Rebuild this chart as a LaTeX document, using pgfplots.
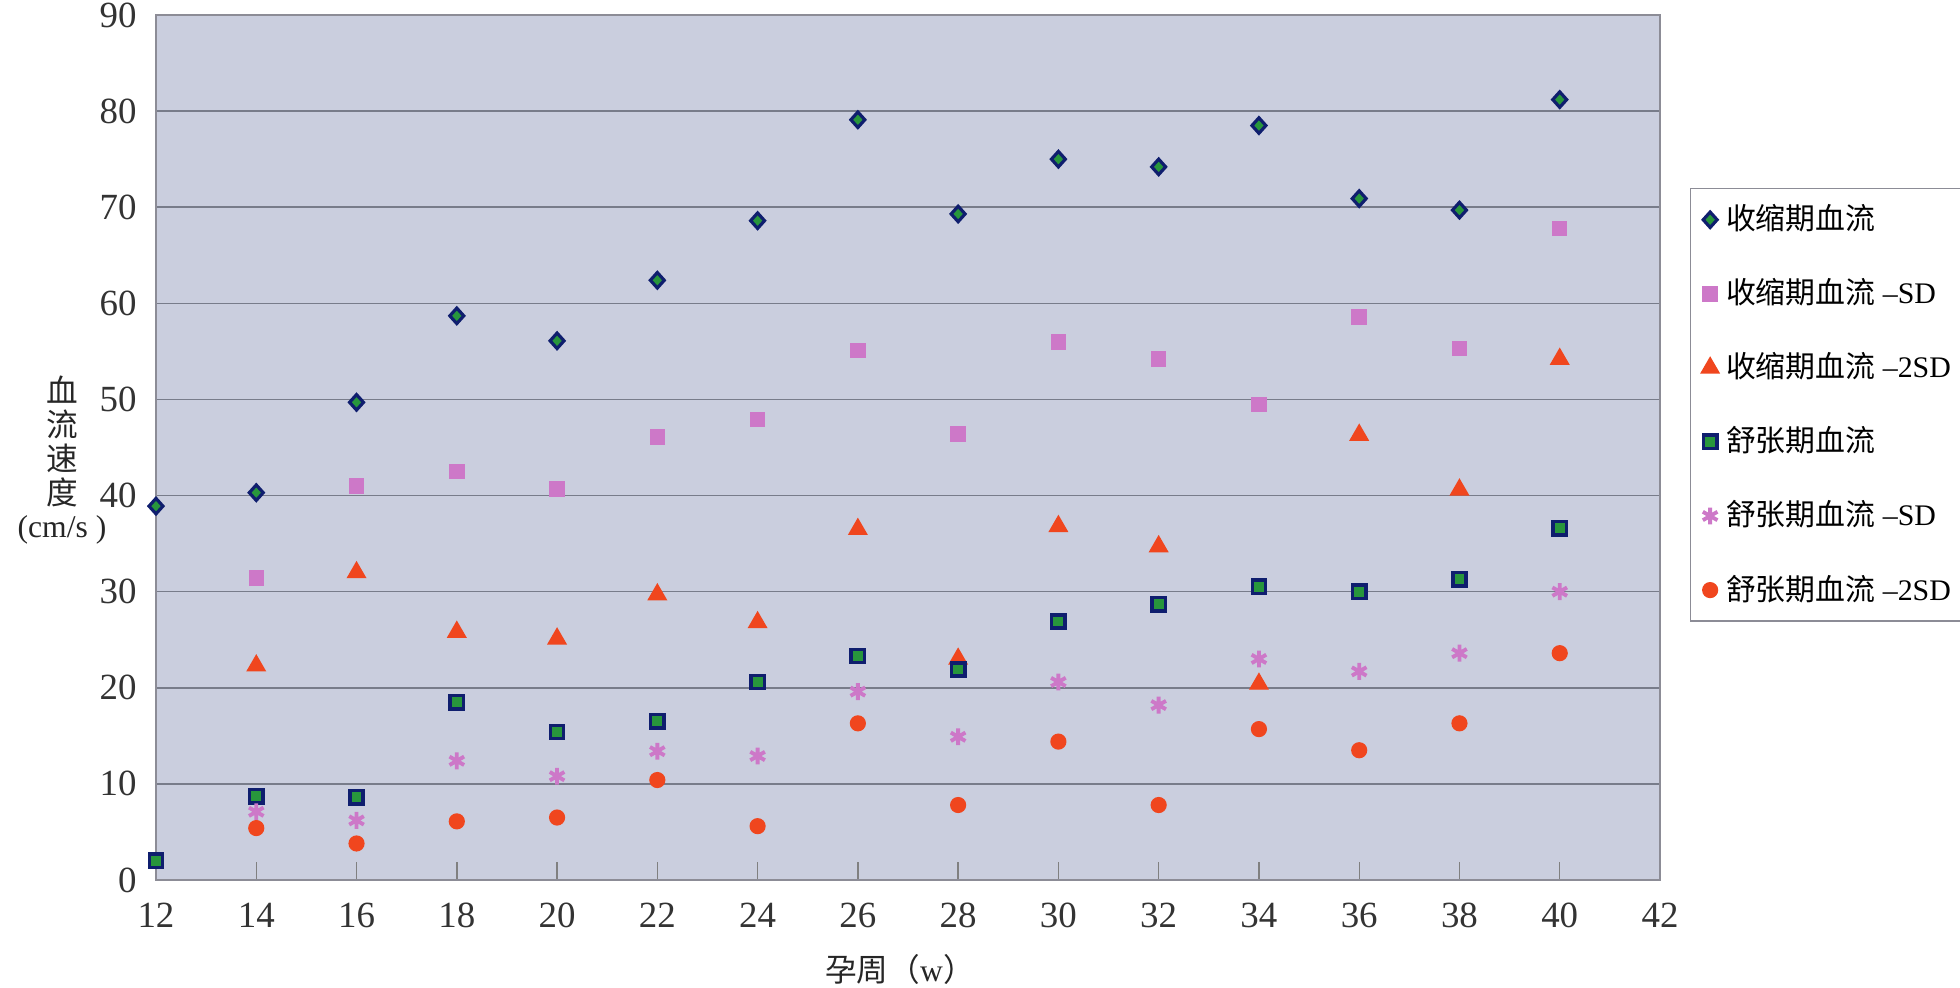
\documentclass[border=0pt]{standalone}
\usepackage{fontspec}
\setmainfont{Liberation Serif}
\newfontfamily\cjk{Noto Sans CJK SC}
\usepackage{pgfplots}
\pgfplotsset{compat=1.18}
\definecolor{plotbg}{RGB}{202,206,222}
\definecolor{navy}{RGB}{15,30,110}
\definecolor{mgreen}{RGB}{40,150,60}
\definecolor{pinkm}{RGB}{205,120,200}
\definecolor{redm}{RGB}{240,70,30}
\definecolor{framec}{RGB}{140,140,150}
\definecolor{gridc}{RGB}{120,124,138}
\begin{document}
\begin{tikzpicture}
\useasboundingbox (-1.56,-1.08) rectangle (18.04,8.80);
\begin{axis}[
  scale only axis, width=15.04cm, height=8.65cm,
  xmin=12, xmax=42, ymin=0, ymax=90,
  xtick={12,14,...,42}, ytick={0,10,...,90},
  axis background/.style={fill=plotbg},
  axis line style={framec, line width=0.8pt},
  ymajorgrids, major grid style={gridc, line width=0.45pt},
  tick align=inside, xtick pos=bottom, ytick style={draw=none},
  xtick style={gray, thin}, major tick length=5pt,
  tick label style={font=\fontsize{10.5}{12}\selectfont, text=black!80},
  /pgf/number format/assume math mode=true,
  xticklabel shift=3pt, yticklabel shift=2pt,
  clip=false,
  xlabel={{\cjk 孕周（}w{\cjk ）}},
  xlabel style={at={(axis description cs:0.4947,-0.104)}, anchor=center, font=\fontsize{9}{10}\selectfont, text=black!85},
  ylabel={{\cjk 血}\\{\cjk 流}\\{\cjk 速}\\{\cjk 度}\\(cm/s\ )},
  ylabel style={at={(axis description cs:-0.0625,0.485)}, rotate=-90, anchor=center, align=center, font=\fontsize{9}{9.6}\selectfont, text=black!85},
  legend style={at={(1.02,0.80)}, anchor=north west, draw=framec, fill=white,
    font=\fontsize{8.5}{10}\selectfont, row sep=8.4pt, inner xsep=3pt, inner ysep=2.5pt,
    cells={anchor=west}},
]
\addplot[only marks, mark=diamond*, mark size=2.2pt, mark options={draw=navy, fill=mgreen, line width=0.9pt, xscale=1.2}] coordinates {
(12,38.9) (14,40.3) (16,49.7) (18,58.7) (20,56.1) (22,62.4) (24,68.6) (26,79.1) (28,69.3) (30,75.0) (32,74.2) (34,78.5) (36,70.9) (38,69.7) (40,81.2)};
\addlegendentry{{\cjk 收缩期血流}}
\addplot[only marks, mark=square*, mark size=2pt, mark options={draw=pinkm, fill=pinkm}] coordinates {
(14,31.4) (16,41.0) (18,42.5) (20,40.7) (22,46.1) (24,47.9) (26,55.1) (28,46.4) (30,56.0) (32,54.2) (34,49.5) (36,58.6) (38,55.3) (40,67.8)};
\addlegendentry{{\cjk 收缩期血流} –SD}
\addplot[only marks, mark=triangle*, mark size=2.9pt, mark options={draw=redm, fill=redm}] coordinates {
(14,22.3) (16,32.0) (18,25.8) (20,25.1) (22,29.7) (24,26.8) (26,36.5) (28,23.0) (30,36.8) (32,34.7) (34,20.4) (36,46.3) (38,40.6) (40,54.2)};
\addlegendentry{{\cjk 收缩期血流} –2SD}
\addplot[only marks, mark=square*, mark size=1.9pt, mark options={draw=navy, fill=mgreen, line width=1pt}] coordinates {
(12,2.0) (14,8.7) (16,8.6) (18,18.5) (20,15.4) (22,16.5) (24,20.6) (26,23.3) (28,21.9) (30,26.9) (32,28.7) (34,30.5) (36,30.0) (38,31.3) (40,36.6)};
\addlegendentry{{\cjk 舒张期血流}}
\addplot[only marks, mark=asterisk, mark size=2.4pt, mark options={draw=pinkm, line width=1.1pt}] coordinates {
(14,7.1) (16,6.2) (18,12.4) (20,10.8) (22,13.4) (24,12.9) (26,19.6) (28,14.9) (30,20.6) (32,18.2) (34,23.0) (36,21.7) (38,23.6) (40,30.0)};
\addlegendentry{{\cjk 舒张期血流} –SD}
\addplot[only marks, mark=*, mark size=2.1pt, mark options={draw=redm, fill=redm}] coordinates {
(14,5.4) (16,3.8) (18,6.1) (20,6.5) (22,10.4) (24,5.6) (26,16.3) (28,7.8) (30,14.4) (32,7.8) (34,15.7) (36,13.5) (38,16.3) (40,23.6)};
\addlegendentry{{\cjk 舒张期血流} –2SD}
\end{axis}
\end{tikzpicture}
\end{document}
